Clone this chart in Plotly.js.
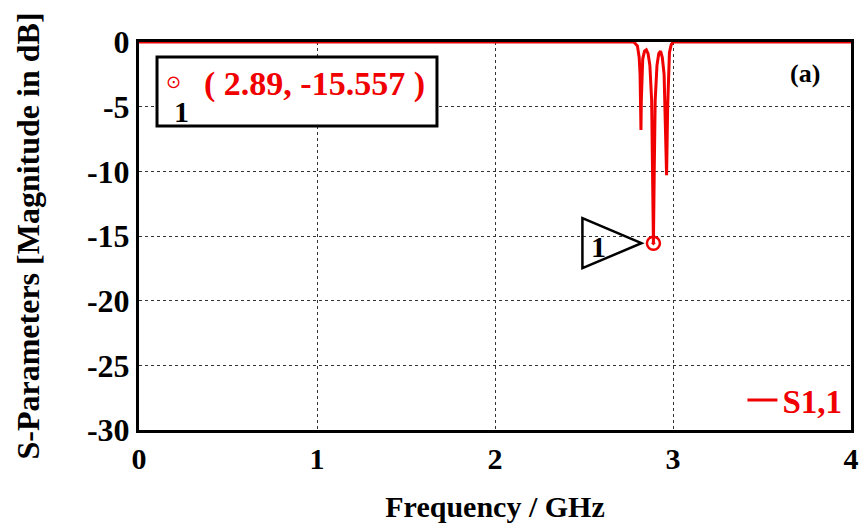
<!DOCTYPE html>
<html>
<head>
<meta charset="utf-8">
<script src="https://cdn.plot.ly/plotly-3.0.1.min.js"></script>
<style>html,body{margin:0;padding:0;background:#fff;}#chart{width:865px;height:532px;}</style>
</head>
<body>
<div id="chart"></div>
<script>
// S1,1 magnitude (dB) vs frequency (GHz)
const freqGHz = [0, 0.5, 1.0, 1.5, 2.0, 2.5, 2.78, 2.80, 2.81, 2.815, 2.818, 2.82, 2.822, 2.825, 2.83, 2.84, 2.85, 2.86, 2.87, 2.88, 2.885, 2.89, 2.895, 2.90, 2.91, 2.92, 2.93, 2.94, 2.95, 2.958, 2.964, 2.97, 2.975, 2.98, 2.99, 3.0, 3.5, 4.0];
const s11dB   = [0, 0, 0, 0, 0, 0, 0, -0.3, -1.2, -2.5, -4.5, -6.8, -4.5, -2.5, -1.3, -0.7, -0.6, -0.9, -1.8, -4.5, -9.5, -15.557, -9.5, -4.5, -1.8, -0.9, -0.7, -1.2, -2.5, -6.0, -10.3, -5.0, -2.0, -0.8, -0.2, 0, 0, 0];
const markerFreq = [2.89];
const markerVal = [-15.557];
const markerLabel = "1";
const seriesName = "S1,1";
const xTicks = [0, 1, 2, 3, 4];
const yTicks = [0, -5, -10, -15, -20, -25, -30];

const serif = "Liberation Serif, Times New Roman, serif";
const red = "#f00000";

const traces = [
  {x: freqGHz, y: s11dB, type: "scatter", mode: "lines", name: seriesName,
   line: {color: red, width: 3}},
  {x: markerFreq, y: markerVal, type: "scatter", mode: "markers", showlegend: false,
   cliponaxis: false,
   marker: {symbol: "circle-open-dot", size: 13, color: red, line: {color: red, width: 2.5}}}
];

const axisCommon = {
  showline: true, mirror: true, linecolor: "#000", linewidth: 3,
  showgrid: true, gridcolor: "#333", griddash: "3px,3px", gridwidth: 1,
  zeroline: false, ticks: "", layer: "below traces"
};

const layout = {
  width: 865, height: 532,
  margin: {l: 139, r: 14, t: 42, b: 102},
  paper_bgcolor: "#fff", plot_bgcolor: "#fff",
  showlegend: true,
  legend: {x: 0.995, xanchor: "right", y: 0.005, yanchor: "bottom",
           bgcolor: "rgba(0,0,0,0)", font: {family: serif, size: 33, color: red, weight: "bold"}},
  xaxis: Object.assign({}, axisCommon, {
    range: [0, 4], tickvals: xTicks, ticktext: xTicks.map(String),
    tickfont: {family: serif, size: 30, color: "#000", weight: "bold"},
    title: {text: "Frequency / GHz", font: {family: serif, size: 30, color: "#000", weight: "bold"}, standoff: 22}
  }),
  yaxis: Object.assign({}, axisCommon, {
    range: [-30, 0], tickvals: yTicks, ticktext: yTicks.map(String),
    tickfont: {family: serif, size: 32, color: "#000", weight: "bold"},
    title: {text: "S-Parameters [Magnitude in dB]", font: {family: serif, size: 32, color: "#000", weight: "bold"}, standoff: 38}
  }),
  shapes: [
    // marker info box
    {type: "rect", xref: "paper", yref: "paper", x0: 0.0253, x1: 0.4185, y0: 0.7835, y1: 0.9613,
     line: {color: "#000", width: 3}, fillcolor: "#fff", layer: "above"},
    // triangle pointer anchored to the marker point
    {type: "path", xref: "x", yref: "y", xsizemode: "pixel", ysizemode: "pixel",
     xanchor: markerFreq[0], yanchor: markerVal[0],
     path: "M -12 0 L -71 25 L -71 -25 Z", line: {color: "#000", width: 2.5}, fillcolor: "rgba(0,0,0,0)"}
  ],
  annotations: [
    {xref: "paper", yref: "paper", x: 0.0478, y: 0.899, xanchor: "center", yanchor: "middle",
     text: "⊙", showarrow: false,
     font: {family: "DejaVu Sans", size: 18, color: red}},
    {xref: "paper", yref: "paper", x: 0.0590, y: 0.822, xanchor: "center", yanchor: "middle",
     text: markerLabel, showarrow: false,
     font: {family: serif, size: 30, color: "#000", weight: "bold"}},
    {xref: "paper", yref: "paper", x: 0.247, y: 0.892, xanchor: "center", yanchor: "middle",
     text: "( " + markerFreq[0] + ", " + markerVal[0] + " )", showarrow: false,
     font: {family: serif, size: 34, color: red, weight: "bold"}},
    {xref: "x", yref: "y", x: markerFreq[0], y: markerVal[0], xshift: -55, yshift: -3,
     xanchor: "center", yanchor: "middle",
     text: markerLabel, showarrow: false,
     font: {family: serif, size: 30, color: "#000", weight: "bold"}},
    {xref: "paper", yref: "paper", x: 0.935, y: 0.92, xanchor: "center", yanchor: "middle",
     text: "(a)", showarrow: false,
     font: {family: serif, size: 26, color: "#000", weight: "bold"}}
  ]
};

Plotly.newPlot("chart", traces, layout, {displayModeBar: false, staticPlot: true});
</script>
</body>
</html>
